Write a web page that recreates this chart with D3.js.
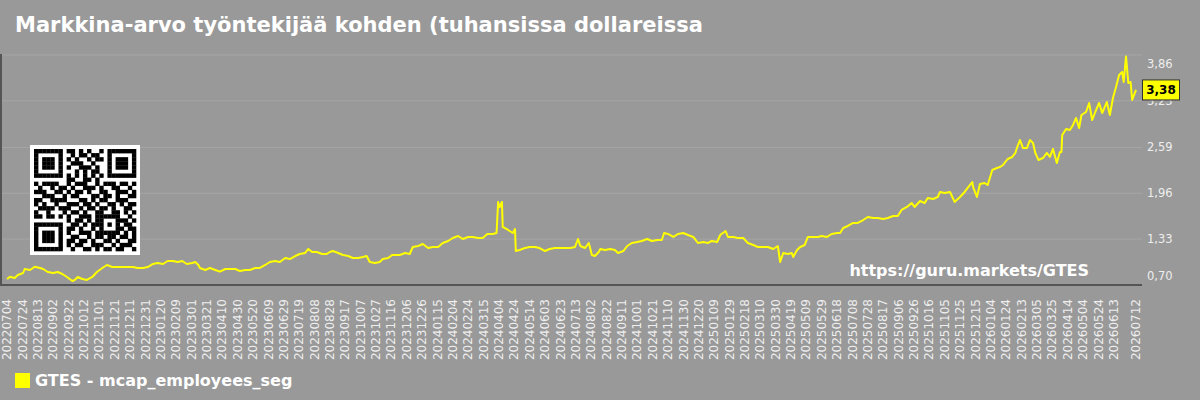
<!DOCTYPE html>
<html>
<head>
<meta charset="utf-8">
<script src="https://cdn.jsdelivr.net/npm/d3@7"></script>
<style>
  html, body { margin: 0; padding: 0; background: #999999; }
  svg { display: block; font-family: "DejaVu Sans", sans-serif; }
</style>
</head>
<body>
<div id="chart"></div>
<script>
// data
const startDate = "20220704";
// days since startDate
const dayOffsets = [
  0, 4, 10, 14, 21, 23, 30, 36, 43, 47, 53, 60, 66, 72, 78, 85, 88, 92, 98, 104,
  111, 117, 124, 130, 137, 144, 151, 157, 164, 170, 177, 183, 190, 196, 203, 209, 216, 222, 228, 234,
  241, 245, 249, 251, 258, 264, 271, 277, 284, 290, 297, 303, 310, 316, 323, 329, 336, 342, 349, 355,
  362, 368, 375, 381, 388, 392, 397, 403, 410, 416, 420, 424, 431, 437, 444, 450, 457, 463, 468, 472,
  479, 485, 489, 496, 501, 507, 511, 518, 524, 528, 535, 541, 548, 554, 561, 567, 574, 580, 587, 593,
  600, 606, 613, 619, 625, 632, 637, 639, 641, 644, 645, 652, 658, 661, 662, 667, 674, 680, 687, 693,
  700, 706, 713, 720, 726, 733, 739, 743, 746, 752, 757, 761, 765, 770, 772, 778, 785, 791, 795, 802,
  807, 813, 820, 826, 833, 839, 846, 852, 855, 860, 867, 873, 880, 886, 893, 899, 906, 912, 917, 924,
  928, 935, 938, 945, 951, 958, 964, 971, 977, 984, 990, 997, 1003, 1006, 1010, 1016, 1021, 1023, 1028, 1032,
  1038, 1042, 1049, 1055, 1060, 1067, 1073, 1080, 1084, 1088, 1094, 1101, 1107, 1114, 1120, 1127, 1133, 1140, 1146, 1153,
  1159, 1164, 1171, 1177, 1181, 1188, 1194, 1198, 1205, 1211, 1214, 1220, 1227, 1233, 1240, 1246, 1250, 1256, 1257, 1262,
  1266, 1272, 1276, 1282, 1288, 1292, 1296, 1302, 1308, 1312, 1314, 1318, 1322, 1327, 1331, 1335, 1338, 1342, 1348, 1353,
  1357, 1361, 1366, 1370, 1372, 1373, 1378, 1383, 1387, 1391, 1395, 1398, 1404, 1408, 1412, 1416, 1421, 1425, 1431, 1435,
  1439, 1443, 1447, 1451, 1453, 1456, 1459, 1462, 1464, 1469
];
const values = [
  0.782, 0.814, 0.796, 0.837, 0.865, 0.920, 0.906, 0.951, 0.934, 0.920, 0.879, 0.865, 0.879, 0.851, 0.810, 0.755, 0.769, 0.810, 0.782, 0.769,
  0.810, 0.879, 0.934, 0.975, 0.947, 0.947, 0.947, 0.947, 0.947, 0.934, 0.934, 0.947, 0.989, 1.002, 0.989, 1.030, 1.030, 1.016, 1.030, 0.989,
  1.002, 1.016, 0.975, 0.934, 0.906, 0.934, 0.906, 0.883, 0.920, 0.920, 0.920, 0.892, 0.906, 0.906, 0.934, 0.934, 0.975, 1.016, 1.030, 1.016,
  1.071, 1.057, 1.098, 1.126, 1.140, 1.195, 1.153, 1.153, 1.126, 1.126, 1.153, 1.167, 1.140, 1.112, 1.098, 1.071, 1.071, 1.085, 1.098, 1.016,
  1.002, 1.016, 1.057, 1.071, 1.112, 1.112, 1.112, 1.140, 1.126, 1.222, 1.236, 1.263, 1.208, 1.222, 1.222, 1.277, 1.305, 1.346, 1.373, 1.332,
  1.360, 1.360, 1.346, 1.346, 1.401, 1.401, 1.414, 1.840, 1.770, 1.840, 1.497, 1.456, 1.414, 1.469, 1.167, 1.181, 1.208, 1.222, 1.222, 1.208,
  1.167, 1.195, 1.208, 1.208, 1.208, 1.208, 1.222, 1.332, 1.236, 1.208, 1.277, 1.112, 1.098, 1.153, 1.195, 1.181, 1.195, 1.181, 1.140, 1.167,
  1.236, 1.277, 1.291, 1.305, 1.332, 1.305, 1.318, 1.318, 1.414, 1.401, 1.360, 1.401, 1.414, 1.387, 1.360, 1.277, 1.291, 1.277, 1.305, 1.291,
  1.387, 1.442, 1.360, 1.360, 1.346, 1.346, 1.277, 1.250, 1.222, 1.222, 1.222, 1.195, 1.236, 1.016, 1.140, 1.126, 1.140, 1.085, 1.181, 1.222,
  1.250, 1.360, 1.360, 1.360, 1.373, 1.360, 1.401, 1.414, 1.414, 1.483, 1.511, 1.552, 1.552, 1.593, 1.634, 1.621, 1.621, 1.607, 1.621, 1.648,
  1.648, 1.731, 1.772, 1.827, 1.772, 1.854, 1.827, 1.895, 1.882, 1.909, 1.978, 1.964, 1.978, 1.841, 1.909, 1.978, 2.033, 2.115, 2.047, 1.909,
  2.088, 2.101, 2.074, 2.280, 2.308, 2.321, 2.349, 2.431, 2.459, 2.514, 2.582, 2.692, 2.582, 2.582, 2.692, 2.651, 2.514, 2.418, 2.445, 2.514,
  2.459, 2.569, 2.376, 2.527, 2.527, 2.761, 2.843, 2.830, 2.898, 2.995, 2.857, 3.036, 3.077, 3.201, 2.967, 3.077, 3.201, 3.063, 3.214, 3.036,
  3.269, 3.420, 3.585, 3.627, 3.489, 3.840, 3.475, 3.489, 3.242, 3.380
];

const tickValues = [0.70, 1.33, 1.96, 2.59, 3.23, 3.86];
const tickLabels = ["0,70", "1,33", "1,96", "2,59", "3,23", "3,86"];

const dateLabels = [
  "20220704", "20220724", "20220813", "20220902", "20220922", "20221012", "20221101", "20221121", "20221211", "20221231",
  "20230120", "20230209", "20230301", "20230321", "20230410", "20230430", "20230520", "20230609", "20230629", "20230719",
  "20230808", "20230828", "20230917", "20231007", "20231027", "20231116", "20231206", "20231226", "20240115", "20240204",
  "20240224", "20240315", "20240404", "20240424", "20240514", "20240603", "20240623", "20240713", "20240802", "20240822",
  "20240911", "20241001", "20241021", "20241110", "20241130", "20241220", "20250109", "20250129", "20250218", "20250310",
  "20250330", "20250419", "20250509", "20250529", "20250618", "20250708", "20250728", "20250817", "20250906", "20250926",
  "20251016", "20251105", "20251125", "20251215", "20260104", "20260124", "20260213", "20260305", "20260325", "20260414",
  "20260504", "20260524", "20260613", "20260712"
];

const qrRows = [
  "1111111011010100101111111",
  "1000001001011011001000001",
  "1011101010100101101011101",
  "1011101001110010001011101",
  "1011101010011101001011101",
  "1000001000101011001000001",
  "1111111010101010101111111",
  "0000000011001101000000000",
  "1011110010111001011101101",
  "0100101101001110100110010",
  "1110011010110100110011101",
  "0011100101100011011010011",
  "1100111100011010110011100",
  "1010010011101101001101011",
  "0111101110010110110100110",
  "1001000101101001100110101",
  "1101101010011101111110010",
  "0000000010110101100011101",
  "1111111001101011101010110",
  "1000001011010010100011011",
  "1011101010011101111110101",
  "1011101001100101101101101",
  "1011101011011010011010011",
  "1000001010110011100101110",
  "1111111001001101011011001"
];

const title = "Markkina-arvo työntekijää kohden (tuhansissa dollareissa";
const seriesName = "GTES - mcap_employees_seg";
const watermark = "https://guru.markets/GTES";

// sizes
const W = 1200, H = 400;
const plot = { left: 0, right: 1142, top: 55, bottom: 285 };

const parse = d3.timeParse("%Y%m%d");
const t0 = parse(startDate);
const series = dayOffsets.map((d, i) => ({ date: d3.timeDay.offset(t0, d), value: values[i] }));

const svg = d3.select("#chart").append("svg")
  .attr("width", W)
  .attr("height", H);

svg.append("rect").attr("width", W).attr("height", H).attr("fill", "#999999");

const x = d3.scaleTime()
  .domain([t0, parse(dateLabels[dateLabels.length - 1])])
  .range([7, 1136]);

const y = d3.scaleLinear()
  .domain([tickValues[0], tickValues[tickValues.length - 1]])
  .range([plot.bottom, plot.top]);

// title
svg.append("text")
  .attr("x", 15)
  .attr("y", 32)
  .attr("fill", "#ffffff")
  .style("font-size", "21px")
  .style("font-weight", "bold")
  .text(title);

// grid
svg.append("g")
  .selectAll("line")
  .data(tickValues.slice(1))
  .enter()
  .append("line")
  .attr("x1", plot.left)
  .attr("x2", plot.right)
  .attr("y1", d => y(d))
  .attr("y2", d => y(d))
  .attr("stroke", "#a6a6a6")
  .attr("stroke-width", 1);

// y labels on the right, first and last pushed inside
svg.append("g")
  .selectAll("text")
  .data(tickValues)
  .enter()
  .append("text")
  .attr("x", plot.right + 5)
  .attr("y", d => y(d))
  .attr("dy", (d, i) => i === 0 ? "-0.45em" : (i === tickValues.length - 1 ? "1.15em" : "0.35em"))
  .attr("fill", "#eeeeee")
  .style("font-size", "11.5px")
  .text((d, i) => tickLabels[i]);

// QR code
const qrBox = svg.append("g");
qrBox.append("rect")
  .attr("x", 30).attr("y", 145)
  .attr("width", 110).attr("height", 110)
  .attr("fill", "#ffffff");
const qx = d3.scaleBand().domain(d3.range(25)).range([34, 136]);
const qy = d3.scaleBand().domain(d3.range(25)).range([149, 251]);
qrRows.forEach((row, r) => {
  row.split("").forEach((c, k) => {
    if (c === "1") {
      qrBox.append("rect")
        .attr("x", qx(k)).attr("y", qy(r))
        .attr("width", qx.bandwidth() + 0.3).attr("height", qy.bandwidth() + 0.3)
        .attr("fill", "#000000");
    }
  });
});

// watermark
svg.append("text")
  .attr("x", 1089)
  .attr("y", 276)
  .attr("text-anchor", "end")
  .attr("fill", "#ffffff")
  .style("font-size", "16px")
  .style("font-weight", "bold")
  .text(watermark);

// line
svg.append("path")
  .datum(series)
  .attr("fill", "none")
  .attr("stroke", "#ffff00")
  .attr("stroke-width", 2)
  .attr("stroke-linejoin", "round")
  .attr("d", d3.line()
    .x(d => x(d.date))
    .y(d => y(d.value)));

// axis lines
svg.append("line")
  .attr("x1", 1).attr("x2", 1)
  .attr("y1", 54).attr("y2", plot.bottom)
  .attr("stroke", "#555555").attr("stroke-width", 2);
svg.append("line")
  .attr("x1", 0).attr("x2", plot.right)
  .attr("y1", plot.bottom).attr("y2", plot.bottom)
  .attr("stroke", "#555555").attr("stroke-width", 2);

// x labels (rotated)
svg.append("g")
  .selectAll("text")
  .data(dateLabels)
  .enter()
  .append("text")
  .attr("transform", d => `translate(${x(parse(d))},299) rotate(-90)`)
  .attr("text-anchor", "end")
  .attr("dy", "0.35em")
  .attr("fill", "#eeeeee")
  .style("font-size", "12px")
  .text(d => d);

// last value tag
const last = series[series.length - 1];
const tag = svg.append("g").attr("transform", `translate(${plot.right},${y(last.value)})`);
tag.append("rect")
  .attr("x", 0.5).attr("y", -10)
  .attr("width", 37).attr("height", 20)
  .attr("fill", "#ffff00")
  .attr("stroke", "#333333")
  .attr("stroke-width", 1);
tag.append("text")
  .attr("x", 19)
  .attr("dy", "0.36em")
  .attr("text-anchor", "middle")
  .attr("fill", "#000000")
  .style("font-size", "12px")
  .style("font-weight", "bold")
  .text(d3.format(".2f")(last.value).replace(".", ","));

// legend
svg.append("rect")
  .attr("x", 15).attr("y", 373)
  .attr("width", 15).attr("height", 15)
  .attr("fill", "#ffff00");
svg.append("text")
  .attr("x", 35)
  .attr("y", 386)
  .attr("fill", "#ffffff")
  .style("font-size", "16px")
  .style("font-weight", "bold")
  .text(seriesName);
</script>
</body>
</html>
